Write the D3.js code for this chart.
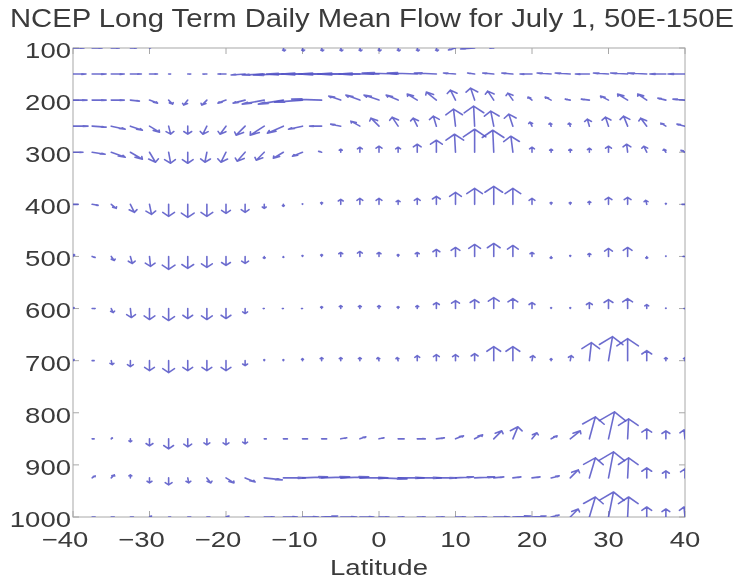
<!DOCTYPE html>
<html>
<head>
<meta charset="utf-8">
<script src="https://cdn.jsdelivr.net/npm/d3@7"></script>
<style>
  body { margin: 0; background: #fff; }
</style>
</head>
<body>
<div id="chart"></div>
<script>
// grid of the flow field
var lats = [-40, -37.5, -35, -32.5, -30, -27.5, -25, -22.5, -20, -17.5, -15, -12.5, -10, -7.5, -5, -2.5,
            0, 2.5, 5, 7.5, 10, 12.5, 15, 17.5, 20, 22.5, 25, 27.5, 30, 32.5, 35, 37.5, 40];
var levels = [100, 150, 200, 250, 300, 400, 500, 600, 700, 850, 925, 1000];

// meridional wind (v, + northward) and vertical motion (w, + upward), one array per level
var v100 = [5.5,5,4,3,0.5,0,0,0,0,0,0,0.5,0.5,0.5,0.5,0.5,0.5,0.5,0.5,0.5,-3.5,-7,-2,0,0,0,0,0,0,0,0,0,0];
var w100 = [0,0,0,0,0,0,0,0,0,0,0,-1.5,-1.5,-1.5,-1.5,-1.5,-1.5,-1.5,-1.5,-1.5,-1,-0.5,0,0,0,0,0,0,0,0,0,0,0];
var v150 = [6.5,7,6.5,5.5,4,1,1.5,-2,-4,-7,-11,-15,-18,-20,-21,-21,-20,-18,-15,-11,-6,-3.5,-5.5,-5.5,-6,-7,-7.5,-7,-7.5,-8.5,-9.5,-8,-8.5];
var w150 = [0,0,0,0,0,0,0,0,0,-0.5,-0.5,-0.5,0,0,0,0,0,0.5,0.5,0.5,0.5,0.5,0.5,0.5,0,0.5,0.5,0,0.5,0.5,0.5,0,0];
var v200 = [7,7,6.5,4.5,4,2,-2,-2.5,-4,-6,-11,-12.5,-14,-15,-6,-7,-7.5,-6,-5,-5,-2.5,-2,-3,-2.5,-2,-3,-2.5,-4,-4,-5,-4.5,-4,-6];
var w200 = [0,0,0,-0.5,-1.5,-2,-2.5,-2.5,-1.5,-1.5,-2,-2,-1,0.5,2,2.5,2.5,2.5,3,4,5,6,4.5,3.5,1.5,1.5,0.5,0.5,2,3,3,1,0.5];
var v250 = [7.5,7,7,6,5,1,0,-2,-3,-4.5,-7,-8,-7,-6,-5,-4.5,-4,-3,-2,-1.5,-1,-0.5,-1.5,-2,-1,-0.5,-0.5,-1,-1.5,-2,-3,-2.5,-4];
var w250 = [0,-0.5,-1.5,-2,-3,-4,-4,-4,-4,-4.5,-4.5,-3.5,-1.5,0,1,2.5,4,4.5,4,5,8.5,10,7.5,6,2,1.5,1.5,3.5,4.5,5,4,1.5,1];
var v300 = [5,6.5,7,6,3,1,0,-1,-2.5,-4,-4,-5,-5,-1.5,0,0,0,0,0,0,-0.5,0,-0.5,-1,0,0,0,0,0,-0.5,-1.5,-1,-2];
var w300 = [0,-1,-2.5,-3.5,-5,-5.5,-5.5,-5,-5,-4.5,-4,-3,-2,0.5,1.5,2.5,3,2.5,4,6,9,11.5,11,8,2.5,1.5,1.5,2,3,4,3,1.5,1];
var v400 = [2.5,3,2.5,2,1,0,0,0,0,0,0,0,0,0,0,0,0,0,0,0,0,0,0,0,0,0,0,0,0,0,-0.5,0,-1.5];
var w400 = [0,-0.5,-2,-4,-5,-6,-6.5,-6,-4.5,-4,-2,-1,0.25,1,2.5,3,3,2,3,4,6,8,9,8,3,1,1,1.5,3.5,3.5,2,0.5,0];
var v500 = [0.5,1.5,1.5,1,0.5,0,0,0,0,0,0,0,0,0,0,0,0,0,0,0,0,0,0,0,0,0,0,0,0,0,0,0,-1];
var w500 = [1,-0.5,-2,-3.5,-5,-6.5,-6,-5.5,-4.5,-3.5,-1,-0.5,0.5,1,2,2.5,2,1,2,3.5,4.5,6,6.5,5.5,2,-1,0.5,1.5,4,4.5,-1,0.25,0];
var v600 = [0.5,1.5,1,0.5,0,0,0,0,0,0,-0.5,-0.5,-0.5,0,0,0,0,0,0,0,0,0,0,0,0,0,0,0,0,0,0,0,-0.5];
var w600 = [0.5,0,-2,-4.5,-5.5,-6,-5,-5.5,-5,-2.5,0,0,0,1,1.5,1.5,1.5,1,1.5,3,4,4.5,5.5,5,3,0.5,0.5,3,4.5,5,2,0.25,0];
var v700 = [0.5,1,0.5,0,0,0,0,0,0,0,0,0,0,0,0,0,-0.5,-0.5,0,0,0,0,0,0,0.5,0,0.5,1,2,0,0,0,0];
var w700 = [0.5,0,-2,-3,-5,-6,-5,-5,-5,-2.5,0.5,0.5,1,1.5,1.5,1.5,1.5,1.5,2.5,3,3,3.5,7,7,2.5,1,2.5,9,12,11,5,1.5,1.5];
var v850 = [0,1,0.5,0,0,0,0,0,0,0,1,2,2.5,2.5,3,3,2.5,3,4,4,4,4,4,2.5,2.5,3,5,3,3,0.5,0,0,-0.5];
var w850 = [0,0,0.5,-1.5,-3.5,-5,-4,-3,-3,-2.5,0,0,0,0,0.5,1,0.5,0,0,0.5,1.5,2,4,6,3,1.5,4,11,13.5,10,5,4,4.5];
var v925 = [0,1.5,1.5,0,0,0,0.5,2,4,5,9,11,12.5,14,14,14,14,13,12,10,9,10,5,4,4,4,4,3,2.5,0.5,0,0,0];
var w925 = [0,1,1.5,1.5,-2.5,-3.5,-2.5,-2.5,-2.5,-2,-1,0,0.5,0.5,0.5,0,-0.5,0,0,0,0.5,0.5,0.5,0.5,0.5,1,4,10,13,10,5,3.5,4.5];
var v1000 = [0,1.5,1.5,1.5,1,1,1.5,1.5,1.5,2,5,7,8,8,8,7,5,3,4,4,5,6,8,9,7,4,4,3,2.5,0.5,0,0,-0.5];
var w1000 = [0,0,0,0,0.5,0,0,0,0.5,0,0,0,0,0.5,0,0,0,0,0,0,0,0,0,0.5,0.5,1,4,10,12.5,10,5,4,5];

var vRows = [v100, v150, v200, v250, v300, v400, v500, v600, v700, v850, v925, v1000];
var wRows = [w100, w150, w200, w250, w300, w400, w500, w600, w700, w850, w925, w1000];

var xTicks = [-40, -30, -20, -10, 0, 10, 20, 30, 40];
var yTicks = [100, 200, 300, 400, 500, 600, 700, 800, 900, 1000];

var titleText = 'NCEP Long Term Daily Mean Flow for July 1, 50E-150E';
var xLabel = 'Latitude';

var props = {
  width: 612,
  height: 469,
  margins: {left: 73, right: 56, top: 48, bottom: 63}
};

var width = props.width;
var height = props.height;
var margins = props.margins;

var x = d3.scaleLinear().domain([-40, 40]).range([0, width]);
var y = d3.scaleLinear().domain([100, 1000]).range([0, height]);
// arrow length in px for one unit of wind
var arrowScale = d3.scaleLinear().domain([0, 1]).range([0, 2]);

var svg = d3.select('#chart').append('svg')
            .attr('width', width + margins.left + margins.right)
            .attr('height', height + margins.top + margins.bottom)
            .style('font-family', '"Liberation Sans", Arial, Helvetica, sans-serif');

var defs = svg.append('defs');
defs.append('clipPath').attr('id', 'plotClip')
    .append('rect').attr('x', 0).attr('y', 0).attr('width', width).attr('height', height);
defs.append('filter').attr('id', 'soft')
    .append('feGaussianBlur').attr('stdDeviation', 0.55);
defs.append('filter').attr('id', 'softText')
    .append('feGaussianBlur').attr('stdDeviation', 0.35);

// the picture's lettering is wider than the font, so stretch it a bit
var textStretch = 1.25;
function stretch(sel, k) {
  sel.each(function() {
    var len = this.getComputedTextLength();
    d3.select(this).attr('textLength', len * k).attr('lengthAdjust', 'spacingAndGlyphs');
  });
}

var plot = svg.append('g').attr('transform', 'translate(' + margins.left + ',' + margins.top + ')');

// axis box with inward ticks (matlab style)
var axisColor = '#a8a8a8';
plot.append('rect')
    .attr('x', 0).attr('y', 0).attr('width', width).attr('height', height)
    .attr('fill', 'none').attr('stroke', axisColor).attr('stroke-width', 1);

var tickLen = 6;
var labels = plot.append('g').attr('filter', 'url(#softText)');
var xt = plot.append('g').attr('class', 'xticks');
xTicks.forEach(function(t) {
  xt.append('line').attr('x1', x(t)).attr('x2', x(t)).attr('y1', height).attr('y2', height - tickLen)
    .attr('stroke', axisColor);
  xt.append('line').attr('x1', x(t)).attr('x2', x(t)).attr('y1', 0).attr('y2', tickLen)
    .attr('stroke', axisColor);
  labels.append('text').attr('x', x(t)).attr('y', height + 30)
    .attr('dx', t < 0 ? -8 : 0)
    .attr('text-anchor', 'middle')
    .attr('font-size', '22px')
    .attr('fill', '#3a3a3a')
    .text(d3.format('d')(t))
    .call(stretch, textStretch);
});

var yt = plot.append('g').attr('class', 'yticks');
yTicks.forEach(function(t) {
  yt.append('line').attr('x1', 0).attr('x2', tickLen).attr('y1', y(t)).attr('y2', y(t))
    .attr('stroke', axisColor);
  yt.append('line').attr('x1', width).attr('x2', width - tickLen).attr('y1', y(t)).attr('y2', y(t))
    .attr('stroke', axisColor);
  labels.append('text').attr('x', -2).attr('y', y(t)).attr('dy', '0.45em')
    .attr('text-anchor', 'end')
    .attr('font-size', '22px')
    .attr('fill', '#3a3a3a')
    .text(t)
    .call(stretch, textStretch);
});

// quiver arrows: shaft + two barbs, head built in data space like matlab's quiver
var alpha = 0.33, beta = 0.33, aspect = 4.5;
function arrowPath(x0, y0, du, dv) {
  var U = du, V = dv * aspect;
  var h1x = U - alpha * (U + beta * V), h1y = V - alpha * (V - beta * U);
  var h2x = U - alpha * (U - beta * V), h2y = V - alpha * (V + beta * U);
  var tx = x0 + du, ty = y0 - dv;
  return 'M' + x0 + ',' + y0 + 'L' + tx + ',' + ty +
         'M' + (x0 + h1x) + ',' + (y0 - h1y / aspect) + 'L' + tx + ',' + ty +
         'L' + (x0 + h2x) + ',' + (y0 - h2y / aspect);
}

var vectors = [];
levels.forEach(function(p, j) {
  lats.forEach(function(lat, i) {
    vectors.push({lat: lat, p: p, v: vRows[j][i], w: wRows[j][i]});
  });
});
vectors = vectors.filter(function(d) { return d.v !== 0 || d.w !== 0; });

var arrows = plot.append('g')
                 .attr('clip-path', 'url(#plotClip)')
                 .append('g')
                 .attr('filter', 'url(#soft)');

arrows.selectAll('path').data(vectors)
      .enter()
      .append('path')
      .attr('d', function(d) {
        return arrowPath(x(d.lat), y(d.p), arrowScale(d.v), arrowScale(d.w));
      })
      .attr('fill', 'none')
      .attr('stroke', '#5252c6')
      .attr('stroke-width', 1.6)
      .attr('stroke-opacity', 0.85)
      .attr('stroke-linecap', 'round')
      .attr('stroke-linejoin', 'round');

// labels
svg.append('text')
   .attr('x', 372).attr('y', 27)
   .attr('text-anchor', 'middle')
   .attr('font-size', '25px')
   .attr('fill', '#3a3a3a')
   .attr('filter', 'url(#softText)')
   .text(titleText)
   .call(stretch, 1.17);

labels.append('text')
    .attr('x', x(0)).attr('y', height + 58)
    .attr('text-anchor', 'middle')
    .attr('font-size', '22px')
    .attr('fill', '#3a3a3a')
    .text(xLabel)
    .call(stretch, textStretch);
</script>
</body>
</html>
